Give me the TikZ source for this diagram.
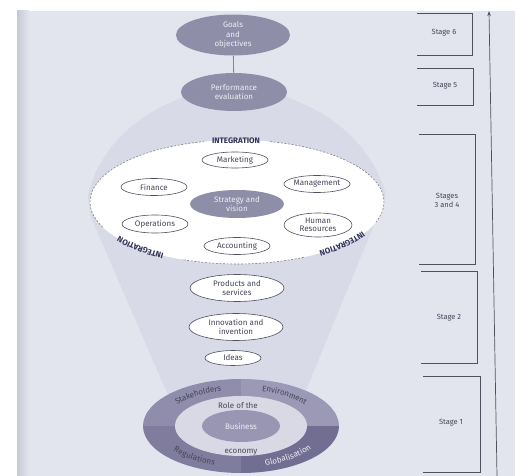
\documentclass[tikz,border=0pt]{standalone}
\usepackage{fontspec}
\setmainfont{Fira Sans}
\usetikzlibrary{decorations.text,shapes.geometric,arrows.meta}
\definecolor{bg}{HTML}{E3E5EE}
\definecolor{paperedge}{HTML}{C6CAD4}
\definecolor{funnel}{HTML}{D8DAE7}
\definecolor{darkell}{HTML}{8E8EA8}
\definecolor{outl}{HTML}{505060}
\definecolor{txt}{HTML}{45455A}
\definecolor{lighttxt}{HTML}{EEEEF4}
\definecolor{intc}{HTML}{34345A}
\definecolor{qUL}{HTML}{8F8DAB}
\definecolor{qUR}{HTML}{9B99B5}
\definecolor{qLL}{HTML}{7F7C9E}
\definecolor{qLR}{HTML}{716E92}
\definecolor{midring}{HTML}{D9D9E5}
\definecolor{inner}{HTML}{9896B2}
\begin{document}
\begin{tikzpicture}[x=1pt,y=-1pt,
  lbl/.style={font=\fontsize{8}{8.5}\selectfont, text=txt, align=center, inner sep=0pt},
  smallell/.style={ellipse, draw=outl, fill=white, line width=0.6pt, inner sep=0pt,
     font=\fontsize{8}{8.5}\selectfont, text=txt, align=center},
  darkellipse/.style={ellipse, fill=darkell, inner sep=0pt,
     font=\fontsize{8}{9.5}\selectfont, text=lighttxt, align=center},
  bracket/.style={draw=outl, line width=0.6pt},
  stagelbl/.style={font=\fontsize{7.5}{9}\selectfont, text=txt, align=center, inner sep=0pt},
  dashline/.style={draw=outl!75, line width=0.6pt, dash pattern=on 2pt off 1.6pt},
  ringtext/.style={decorate, decoration={text along path, text align=center, raise=-2.6pt}}
]
\useasboundingbox (0,0) rectangle (515,476);
\fill[white] (0,0) rectangle (515,476);
\fill[bg] (17,11) rectangle (515,476);
\shade[left color=paperedge, right color=bg] (17,11) rectangle (29,476);

% funnel
\fill[funnel] (187,96) .. controls (140,112) and (100,145) .. (88,195)
  -- (90,215) -- (170,400) -- (302,400) -- (374,225) -- (386,195)
  .. controls (372,145) and (332,112) .. (283,96) -- cycle;

% top ellipses
\node[darkellipse, minimum width=114pt, minimum height=41pt] (goals) at (233,35) {Goals\\and\\objectives};
\node[darkellipse, minimum width=106pt, minimum height=38pt] (perf) at (234,92) {Performance\\evaluation};
\draw[outl!70, line width=0.8pt] (goals) -- (perf);

% integration ellipse
\coordinate (E) at (237,202);
\node[ellipse, fill=white, minimum width=294pt, minimum height=124pt, inner sep=0pt] (integ) at (E) {};
\draw[dashline] ([shift={(283:147 and 62)}]E) arc[start angle=283, end angle=379, x radius=147, y radius=62];
\draw[dashline] ([shift={(63:147 and 62)}]E) arc[start angle=63, end angle=112, x radius=147, y radius=62];
\draw[dashline] ([shift={(156:147 and 62)}]E) arc[start angle=156, end angle=257, x radius=147, y radius=62];
\node[font=\fontsize{8}{8}\selectfont\bfseries, text=intc, inner sep=0pt] (inttop) at (236,141) {INTEGRATION};
\path[ringtext, decoration={text={|\fontsize{8}{8}\selectfont\bfseries\color{intc}|INTEGRATION}}]
  ([shift={(112:147 and 62)}]E) arc[start angle=112, end angle=156, x radius=147, y radius=62];
\path[ringtext, decoration={text={|\fontsize{8}{8}\selectfont\bfseries\color{intc}|INTEGRATION}}]
  ([shift={(19:147 and 62)}]E) arc[start angle=19, end angle=63, x radius=147, y radius=62];

\node[smallell, minimum width=66pt, minimum height=16pt] (mkt) at (235,160) {Marketing};
\node[smallell, minimum width=66pt, minimum height=17pt] (fin) at (154,187) {Finance};
\node[smallell, minimum width=66pt, minimum height=17pt] (mgmt) at (317,184) {Management};
\node[darkellipse, minimum width=94pt, minimum height=28pt, font=\fontsize{8}{9}\selectfont] (strat) at (237,204) {Strategy and\\vision};
\node[smallell, minimum width=66pt, minimum height=18pt] (ops) at (155,224) {Operations};
\node[smallell, minimum width=68pt, minimum height=24pt] (hr) at (318,225) {Human\\Resources};
\node[smallell, minimum width=66pt, minimum height=17pt] (acc) at (237,246) {Accounting};

% lower ellipses
\node[smallell, minimum width=94pt, minimum height=27pt] (prod) at (237,288) {Products and\\services};
\node[smallell, minimum width=94pt, minimum height=27pt] (innov) at (236,327) {Innovation and\\invention};
\node[smallell, minimum width=56pt, minimum height=15pt] (ideas) at (233,358) {Ideas};

% bottom ellipse
\coordinate (B) at (241,426);
\fill[qUL] (B) -- ([shift={(180:98 and 47)}]B) arc[start angle=180, end angle=270, x radius=98, y radius=47] -- cycle;
\fill[qUR] (B) -- ([shift={(270:98 and 47)}]B) arc[start angle=270, end angle=360, x radius=98, y radius=47] -- cycle;
\fill[qLR] (B) -- ([shift={(0:98 and 47)}]B) arc[start angle=0, end angle=90, x radius=98, y radius=47] -- cycle;
\fill[qLL] (B) -- ([shift={(90:98 and 47)}]B) arc[start angle=90, end angle=180, x radius=98, y radius=47] -- cycle;
\node[ellipse, fill=midring, minimum width=132pt, minimum height=60pt, inner sep=0pt] (mid) at (B) {};
\node[ellipse, fill=inner, minimum width=78pt, minimum height=32pt, inner sep=0pt,
      font=\fontsize{8}{8}\selectfont, text=lighttxt] (bus) at (B) {Business};
\node[lbl] (role) at (238,406) {Role of the};
\node[lbl] (econ) at (241,452) {economy};
\path[ringtext, decoration={text={|\fontsize{8}{8}\selectfont\color{txt}|Stakeholders}}]
  ([shift={(198:82 and 38.5)}]B) arc[start angle=198, end angle=268, x radius=82, y radius=38.5];
\path[ringtext, decoration={text={|\fontsize{8}{8}\selectfont\color{txt}|Environment}}]
  ([shift={(274:82 and 38.5)}]B) arc[start angle=274, end angle=340, x radius=82, y radius=38.5];
\path[ringtext, decoration={text={|\fontsize{8}{8}\selectfont\color{txt}|Regulations}}]
  ([shift={(164:82 and 38.5)}]B) arc[start angle=164, end angle=96, x radius=82, y radius=38.5];
\path[ringtext, decoration={text={|\fontsize{8}{8}\selectfont\color{lighttxt}|Globalisation}}]
  ([shift={(86:82 and 38.5)}]B) arc[start angle=86, end angle=10, x radius=82, y radius=38.5];

% stage brackets
\draw[bracket] (417,13) -- (472,13) -- (472,55) -- (417,55);
\node[stagelbl] (s6) at (444,33) {Stage 6};
\draw[bracket] (417,68) -- (473,68) -- (473,105) -- (417,105);
\node[stagelbl] (s5) at (445,86) {Stage 5};
\draw[bracket] (419,134) -- (475,134) -- (475,264) -- (419,264);
\node[stagelbl] (s34) at (447,200) {Stages\\3 and 4};
\draw[bracket] (421,271) -- (477,271) -- (477,363) -- (421,363);
\node[stagelbl] (s2) at (449,318) {Stage 2};
\draw[bracket] (423,376) -- (480,376) -- (480,472) -- (423,472);
\node[stagelbl] (s1) at (451,423) {Stage 1};

% arrow
\coordinate (abot) at (497,476);
\coordinate (atop) at (489,11);
\draw[outl, line width=0.7pt, -{Stealth[length=5pt,width=3.5pt]}] (abot) -- (atop);
\end{tikzpicture}
\end{document}
